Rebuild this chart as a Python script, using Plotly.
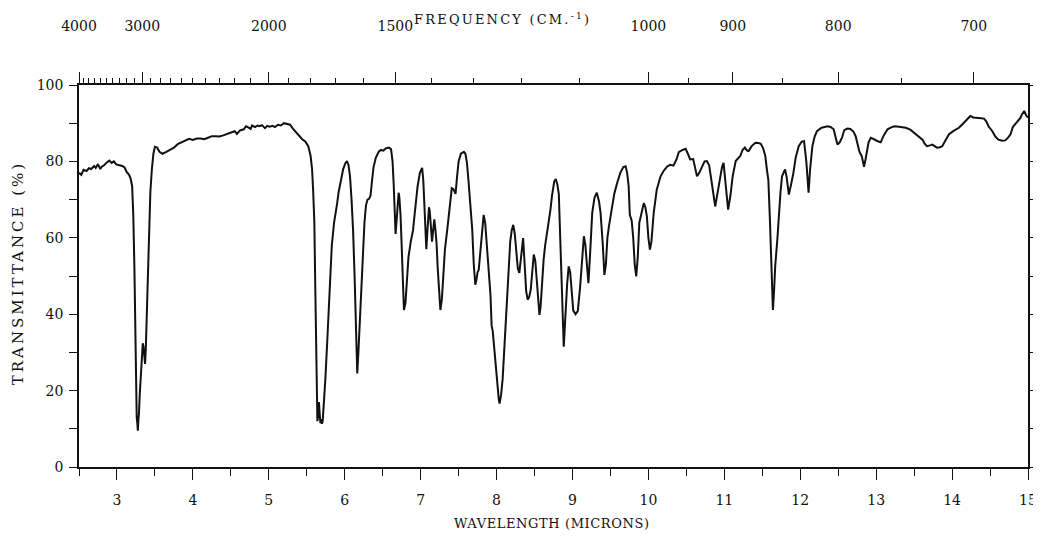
import plotly.graph_objects as go

# ---- data (wavelength in microns, transmittance in %) ----
wavelength = [
    2.50, 2.53, 2.56, 2.60, 2.63, 2.66, 2.70, 2.72, 2.75, 2.78, 2.80, 2.83, 2.87, 2.90, 2.93, 2.96, 2.99,
    3.03, 3.07, 3.10, 3.13, 3.16, 3.18, 3.20, 3.215, 3.23, 3.24, 3.25, 3.26, 3.268, 3.275, 3.283, 3.29,
    3.30, 3.315, 3.33, 3.34, 3.35, 3.36, 3.37, 3.38, 3.39, 3.40, 3.42, 3.44, 3.46, 3.48, 3.50, 3.53,
    3.56, 3.60, 3.65, 3.70, 3.75, 3.80, 3.85, 3.90, 3.95, 4.00, 4.05, 4.10, 4.15, 4.20, 4.25, 4.30,
    4.35, 4.40, 4.45, 4.50, 4.55, 4.58, 4.62, 4.67, 4.70, 4.73, 4.76, 4.78, 4.82, 4.85, 4.88, 4.91,
    4.95, 4.98, 5.01, 5.05, 5.08, 5.12, 5.16, 5.20, 5.24, 5.28, 5.32, 5.36, 5.40, 5.44, 5.48, 5.52,
    5.55, 5.57, 5.585, 5.60, 5.61, 5.62, 5.63, 5.64, 5.65, 5.66, 5.67, 5.68, 5.69, 5.70, 5.71, 5.725,
    5.745, 5.77, 5.79, 5.81, 5.83, 5.86, 5.88, 5.90, 5.92, 5.95, 5.98, 6.01, 6.03, 6.05, 6.07, 6.09,
    6.11, 6.13, 6.15, 6.165, 6.18, 6.20, 6.22, 6.24, 6.26, 6.28, 6.30, 6.32, 6.34, 6.36, 6.38, 6.41,
    6.45, 6.48, 6.51, 6.54, 6.58, 6.61, 6.63, 6.645, 6.66, 6.67, 6.685, 6.70, 6.71, 6.72, 6.735, 6.75,
    6.765, 6.78, 6.80, 6.82, 6.84, 6.87, 6.90, 6.92, 6.94, 6.96, 6.99, 7.02, 7.035, 7.05, 7.065, 7.075,
    7.09, 7.11, 7.12, 7.135, 7.15, 7.165, 7.18, 7.195, 7.21, 7.225, 7.24, 7.26, 7.28, 7.30, 7.32, 7.35,
    7.38, 7.41, 7.43, 7.46, 7.48, 7.50, 7.53, 7.57, 7.59, 7.61, 7.63, 7.66, 7.68, 7.70, 7.72, 7.735,
    7.75, 7.765, 7.79, 7.81, 7.83, 7.85, 7.87, 7.90, 7.92, 7.935, 7.95, 7.97, 7.99, 8.01, 8.03, 8.04,
    8.06, 8.08, 8.10, 8.12, 8.14, 8.16, 8.18, 8.20, 8.22, 8.24, 8.26, 8.28, 8.30, 8.32, 8.34, 8.35,
    8.37, 8.39, 8.41, 8.43, 8.45, 8.47, 8.49, 8.51, 8.53, 8.55, 8.565, 8.58, 8.60, 8.62, 8.64, 8.66,
    8.69, 8.71, 8.73, 8.76, 8.78, 8.80, 8.82, 8.835, 8.855, 8.87, 8.885, 8.90, 8.91, 8.93, 8.95, 8.97,
    8.99, 9.01, 9.04, 9.07, 9.10, 9.13, 9.15, 9.17, 9.19, 9.21, 9.23, 9.26, 9.29, 9.32, 9.35, 9.37,
    9.40, 9.42, 9.44, 9.46, 9.48, 9.51, 9.55, 9.59, 9.63, 9.67, 9.70, 9.72, 9.74, 9.755, 9.78, 9.80,
    9.82, 9.84, 9.86, 9.88, 9.91, 9.94, 9.96, 9.98, 10.00, 10.02, 10.04, 10.07, 10.11, 10.16, 10.20,
    10.25, 10.29, 10.33, 10.37, 10.40, 10.45, 10.49, 10.52, 10.55, 10.59, 10.64, 10.67, 10.70, 10.74,
    10.77, 10.80, 10.83, 10.86, 10.88, 10.90, 10.94, 10.97, 10.99, 11.02, 11.05, 11.08, 11.11, 11.15,
    11.18, 11.21, 11.24, 11.27, 11.30, 11.32, 11.36, 11.41, 11.45, 11.48, 11.51, 11.54, 11.56, 11.58,
    11.60, 11.62, 11.64, 11.655, 11.67, 11.70, 11.72, 11.74, 11.76, 11.80, 11.82, 11.85, 11.88, 11.91,
    11.94, 11.98, 12.02, 12.05, 12.08, 12.11, 12.13, 12.16, 12.19, 12.22, 12.28, 12.36, 12.40, 12.44,
    12.47, 12.49, 12.52, 12.55, 12.58, 12.62, 12.66, 12.70, 12.73, 12.76, 12.78, 12.81, 12.84, 12.86,
    12.88, 12.90, 12.93, 12.96, 12.99, 13.03, 13.06, 13.10, 13.15, 13.20, 13.24, 13.30, 13.35, 13.39,
    13.45, 13.52, 13.57, 13.61, 13.64, 13.67, 13.71, 13.74, 13.77, 13.80, 13.84, 13.87, 13.91, 13.96,
    14.02, 14.09, 14.14, 14.18, 14.21, 14.24, 14.28, 14.33, 14.38, 14.42, 14.45, 14.48, 14.53, 14.57,
    14.61, 14.66, 14.70, 14.74, 14.77, 14.80, 14.84, 14.87, 14.90, 14.92, 14.95, 14.98, 15.00,
]

transmittance = [
    77.0, 76.5, 77.8, 77.5, 78.2, 78.0, 78.8, 78.3, 79.3, 78.0, 78.6, 79.0, 79.8, 80.2, 79.6, 80.0, 79.2,
    79.0, 78.8, 78.4, 77.2, 76.5, 75.5, 73.5, 66.0, 52.0, 36.0, 20.0, 13.0, 11.5, 9.5, 12.5, 14.0,
    19.0, 25.0, 30.0, 32.4, 31.5, 27.5, 27.0, 31.0, 37.0, 45.0, 60.0, 72.0, 78.0, 82.0, 83.8, 83.6,
    82.5, 82.0, 82.5, 83.0, 83.6, 84.5, 85.0, 85.6, 85.9, 85.6, 86.0, 86.0, 85.8, 86.2, 86.6, 86.6,
    86.5, 86.8, 87.2, 87.4, 87.9, 87.2, 88.1, 88.4, 89.2, 88.9, 88.5, 89.4, 89.0, 89.4, 89.2, 89.5,
    88.7, 89.3, 89.1, 89.3, 89.0, 89.6, 89.4, 90.0, 89.7, 89.6, 88.5, 87.6, 86.8, 85.8, 85.2, 84.0,
    81.5, 78.0, 72.0, 64.0, 50.0, 38.0, 22.0, 12.0, 13.5, 17.0, 14.0, 11.5, 12.5, 11.3, 12.0, 16.0,
    23.0, 33.0, 41.0, 50.0, 58.0, 64.0, 66.0, 69.0, 72.0, 75.5, 78.0, 79.6, 80.1, 79.0, 76.0, 70.0,
    62.0, 50.0, 32.0, 24.5, 30.0, 38.0, 48.0, 57.0, 64.0, 68.5, 70.0, 70.2, 71.0, 75.0, 78.5, 81.0,
    82.6, 83.0, 82.8, 83.4, 83.6, 83.2, 80.0, 74.0, 65.0, 61.0, 65.0, 70.0, 71.8, 70.5, 66.0, 58.0,
    48.0, 41.1, 43.0, 50.0, 55.0, 59.0, 62.0, 66.0, 70.0, 73.5, 77.0, 78.3, 75.0, 67.0, 58.0, 57.0,
    62.0, 68.0, 67.0, 63.0, 59.0, 62.0, 64.8, 62.0, 58.5, 52.0, 45.5, 41.1, 44.0, 52.0, 57.0, 62.0,
    67.5, 73.0, 72.8, 71.5, 76.0, 80.0, 82.0, 82.5, 82.0, 79.6, 75.0, 68.0, 62.0, 53.0, 47.7, 49.0,
    51.0, 51.6, 58.0, 63.0, 66.0, 64.0, 59.0, 52.0, 45.0, 37.0, 35.5, 31.0, 26.0, 22.0, 17.5, 16.6,
    19.0, 23.0, 30.0, 37.0, 45.0, 53.0, 59.0, 62.0, 63.4, 61.0, 56.0, 52.0, 50.8, 55.0, 59.5, 59.9,
    53.0, 46.0, 43.8, 44.5, 46.4, 52.0, 55.6, 54.0, 49.0, 43.0, 39.8, 42.0, 49.0, 54.3, 58.0, 60.4,
    64.0, 67.4, 71.0, 74.8, 75.4, 74.0, 71.5, 63.0, 52.5, 42.0, 31.5, 37.0, 41.0, 48.0, 52.5, 51.0,
    46.0, 41.0, 40.0, 40.8, 47.0, 55.0, 60.4, 58.0, 53.0, 48.1, 55.0, 66.5, 70.5, 71.8, 69.5, 66.5,
    58.0, 50.3, 53.0, 60.0, 63.0, 67.0, 71.5, 74.5, 77.0, 78.5, 78.7, 77.0, 73.5, 66.0, 64.5, 60.0,
    53.0, 49.9, 55.0, 63.9, 67.0, 69.1, 68.0, 65.6, 60.0, 56.9, 59.0, 66.5, 72.6, 76.1, 77.5,
    78.7, 79.1, 78.9, 80.5, 82.4, 83.0, 83.3, 82.0, 80.5, 80.6, 76.1, 77.0, 78.5, 80.0,
    80.1, 79.0, 75.0, 70.0, 68.2, 70.5, 75.2, 78.5, 79.6, 74.0, 67.4, 71.0, 76.1, 80.1,
    80.8, 81.4, 83.0, 83.6, 82.8, 82.7, 84.0, 84.9, 84.8, 84.6, 83.5, 81.4, 78.0, 75.2,
    65.0, 52.0, 41.1, 46.0, 52.5, 60.0, 66.5, 72.0, 76.1, 77.9, 76.0, 71.3, 74.0, 77.0,
    81.0, 84.0, 85.2, 85.3, 80.0, 71.8, 78.0, 84.0, 86.5, 87.9, 88.8, 89.2, 89.0, 88.4,
    86.0, 84.4, 85.0, 86.2, 88.2, 88.6, 88.5, 87.8, 86.6, 84.0, 82.5, 81.4, 78.6, 80.5,
    83.1, 85.0, 86.2, 86.0, 85.6, 85.2, 85.0, 86.8, 88.4, 88.9, 89.2, 89.1, 89.0, 88.8,
    88.3, 87.1, 86.4, 85.7, 84.6, 84.0, 84.2, 84.4, 84.0, 83.6, 83.7, 84.0, 85.4, 87.1,
    88.0, 88.8, 89.8, 90.6, 91.4, 91.9, 91.5, 91.3, 91.3, 91.2, 90.5, 89.2, 87.9, 86.5,
    85.7, 85.4, 85.5, 86.3, 87.1, 89.0, 89.9, 90.6, 91.4, 92.3, 93.2, 91.9, 91.5,
]

# bottom axis (wavelength, microns)
wl_major = [3, 4, 5, 6, 7, 8, 9, 10, 11, 12, 13, 14, 15]
wl_minor = [2.5, 3.5, 4.5, 5.5, 6.5, 7.5, 8.5, 9.5, 10.5, 11.5, 12.5, 13.5, 14.5]

# top axis (frequency, cm-1)
freq_major = [4000, 3000, 2000, 1500, 1000, 900, 800, 700]
freq_minor = [3900, 3800, 3700, 3600, 3500, 3400, 3300, 3200, 3100,
              2900, 2800, 2700, 2600, 2500, 2400, 2300, 2200, 2100,
              1900, 1800, 1700, 1600, 1400, 1300, 1200, 1100, 950, 850, 750]

# transmittance axis
t_major = [0, 20, 40, 60, 80, 100]

FONT = "DejaVu Serif"
INK = "#111111"

fig = go.Figure()
fig.add_trace(go.Scatter(x=wavelength, y=transmittance, mode="lines",
                         line=dict(color=INK, width=2), showlegend=False,
                         hoverinfo="skip"))
# empty trace so the top frequency axis is drawn
fig.add_trace(go.Scatter(x=[], y=[], xaxis="x2", yaxis="y", showlegend=False))

fig.update_layout(
    width=1041, height=540,
    paper_bgcolor="white", plot_bgcolor="white",
    margin=dict(l=71, r=21, t=77, b=81, autoexpand=False),
    font=dict(family=FONT, color=INK, size=13),
    xaxis=dict(
        range=[2.5, 15], showgrid=False, zeroline=False,
        showline=True, linecolor=INK, linewidth=1.5, mirror=True,
        tickmode="array", tickvals=wl_major, ticktext=[str(v) for v in wl_major],
        ticks="outside", ticklen=11, tickwidth=1.3, tickcolor=INK,
        ticklabelstandoff=8,
        tickfont=dict(family=FONT, size=14, color=INK),
        minor=dict(tickmode="array", tickvals=wl_minor, ticks="outside",
                   ticklen=7, tickwidth=1.2, tickcolor=INK, showgrid=False),
    ),
    xaxis2=dict(
        overlaying="x", side="top", anchor="y",
        range=[2.5, 15], showgrid=False, zeroline=False,
        showline=True, linecolor=INK, linewidth=1.5,
        tickmode="array", tickvals=[10000.0 / f for f in freq_major],
        ticktext=[str(f) for f in freq_major],
        ticks="outside", ticklen=11, tickwidth=1.3, tickcolor=INK,
        ticklabelstandoff=36,
        tickfont=dict(family=FONT, size=14, color=INK),
        minor=dict(tickmode="array", tickvals=[10000.0 / f for f in freq_minor],
                   ticks="outside", ticklen=5, tickwidth=1.1, tickcolor=INK,
                   showgrid=False),
    ),
    yaxis=dict(
        range=[0, 100], showgrid=False, zeroline=False,
        showline=True, linecolor=INK, linewidth=1.5, mirror="ticks",
        tickmode="array", tickvals=t_major, ticktext=[str(v) for v in t_major],
        ticks="outside", ticklen=8, tickwidth=1.3, tickcolor=INK,
        ticklabelstandoff=3,
        tickfont=dict(family=FONT, size=14, color=INK),
        minor=dict(dtick=10, tick0=0, ticks="outside", ticklen=8,
                   tickwidth=1.2, tickcolor=INK, showgrid=False),
    ),
    annotations=[
        dict(text='<span style="letter-spacing:2.2px">FREQUENCY (CM.<sup>-1</sup>)</span>',
             xref="paper", yref="paper", x=0.446, y=1.172,
             xanchor="center", yanchor="middle", showarrow=False,
             font=dict(family=FONT, size=13, color=INK)),
        dict(text='<span style="letter-spacing:0.6px">WAVELENGTH (MICRONS)</span>',
             xref="paper", yref="paper", x=0.498, y=-0.148,
             xanchor="center", yanchor="middle", showarrow=False,
             font=dict(family=FONT, size=13, color=INK)),
        dict(text='<span style="letter-spacing:3px">TRANSMITTANCE (%)</span>',
             xref="paper", yref="paper", x=-0.064, y=0.508, textangle=-90,
             xanchor="center", yanchor="middle", showarrow=False,
             font=dict(family=FONT, size=15, color=INK)),
    ],
)

fig.write_html("out.html")
